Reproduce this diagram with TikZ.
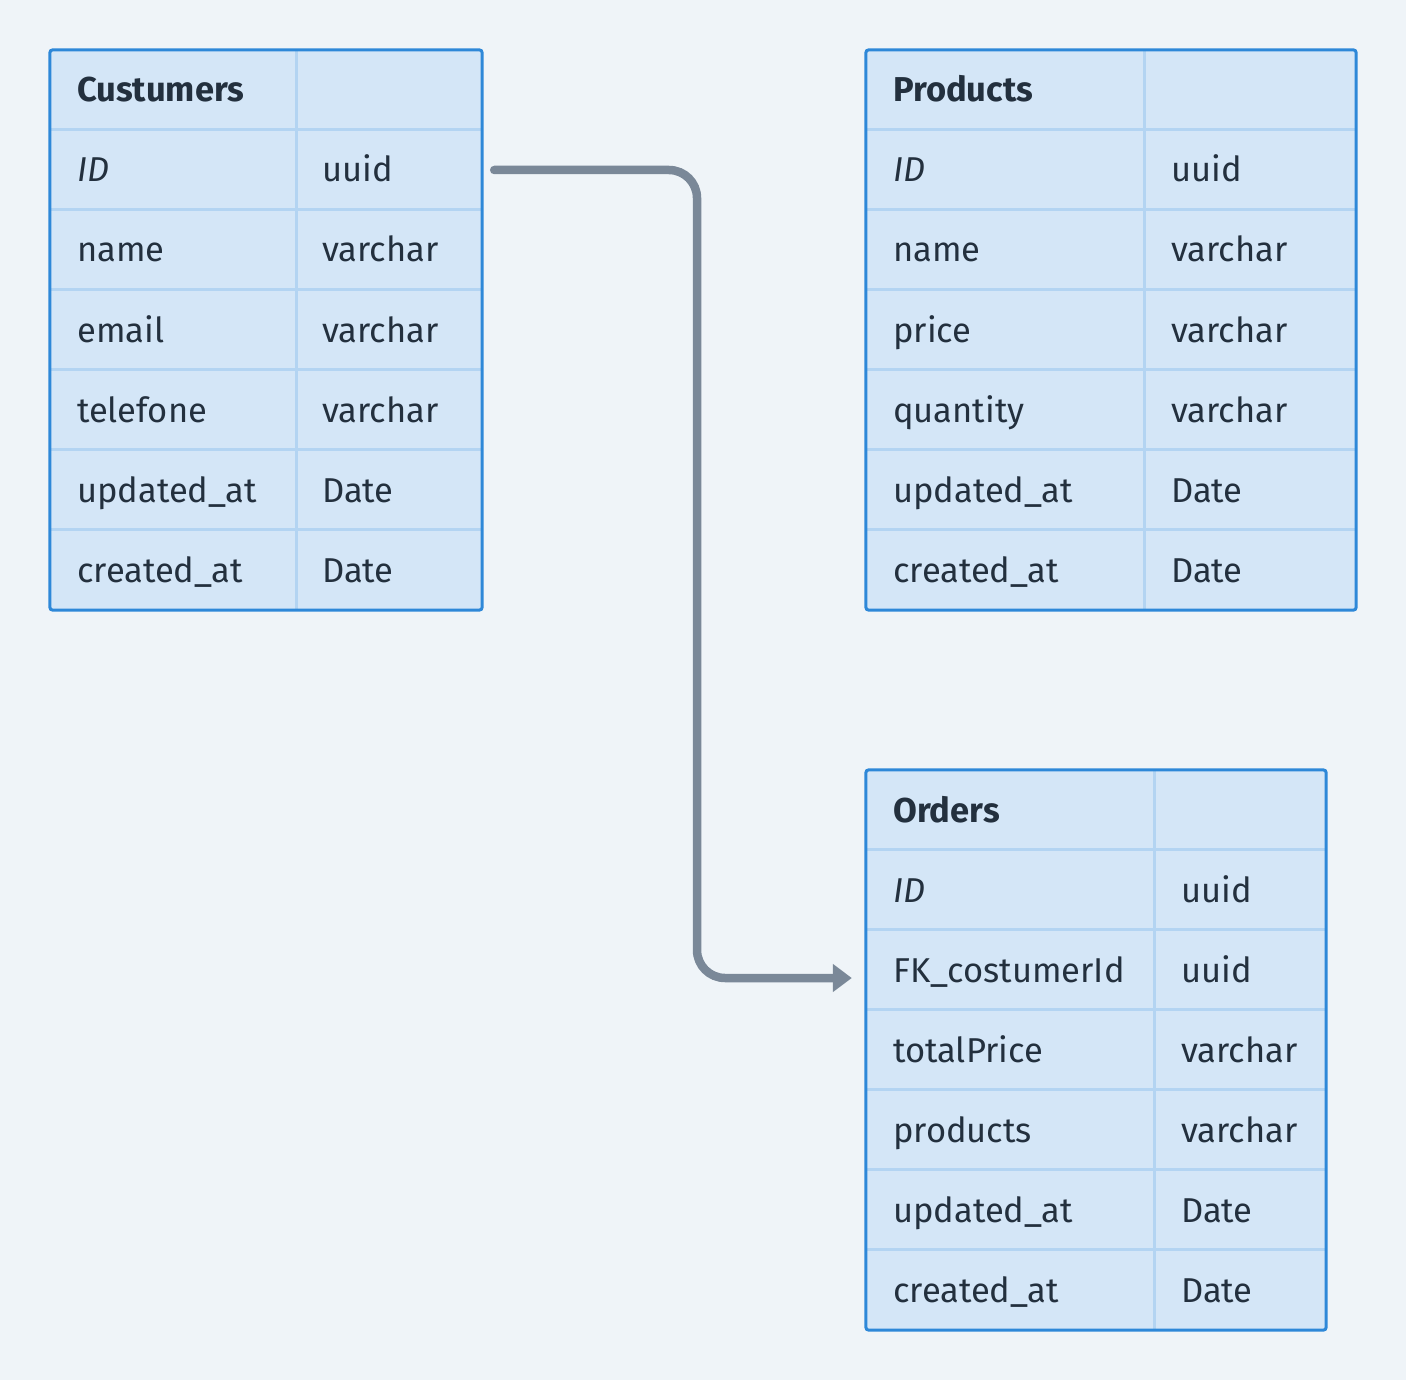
\documentclass[tikz,border=0pt]{standalone}
\usepackage{fontspec}
\setmainfont{Fira Sans}
\usetikzlibrary{arrows.meta, positioning}
\definecolor{bgpale}{RGB}{239, 244, 248}
\definecolor{tblblue}{RGB}{46, 136, 216}
\definecolor{tblfill}{RGB}{212, 230, 247}
\definecolor{tblgrid}{RGB}{179, 212, 242}
\definecolor{inkdark}{RGB}{35, 48, 62}
\definecolor{linkgray}{RGB}{122, 136, 152}
\newcommand{\cellfont}{\fontsize{34.5}{42}\selectfont}

\tikzset{
  tablebox/.style={fill=tblfill, minimum width=#1, minimum height=560pt, inner sep=0pt},
  tableedge/.style={draw=tblblue, line width=3pt, rounded corners=3pt},
  gridline/.style={draw=tblgrid, line width=3pt},
  celltxt/.style={anchor=west, inner sep=0pt, text height=24pt, text depth=0pt, text=inkdark, font=\cellfont},
  headtxt/.style={celltxt, font=\cellfont\bfseries},
  fkarrow/.style={draw=linkgray, line width=8.5pt, line cap=round, rounded corners=28pt, -{Triangle[length=19pt, width=27pt]}}
}

\begin{document}
\begin{tikzpicture}[x=1pt, y=-1pt]
  \fill[bgpale] (0,0) rectangle (1406,1380);
  \useasboundingbox (0,0) rectangle (1406,1380);

  % Custumers
  \node[tablebox=432pt] (cust) at (266, 330) {};
  \foreach \r in {1,...,6}
    \draw[gridline] ([yshift=-80*\r pt]cust.north west) -- ([yshift=-80*\r pt]cust.north east);
  \draw[gridline] (296, 50) -- (296, 610);
  \draw[tableedge] (cust.north west) rectangle (cust.south east);
  \node[headtxt] (cust-head) at (77, 90) {Custumers};
  \foreach \fname/\ftype [count=\r] in {{\itshape ID}/uuid, name/varchar, email/varchar, telefone/varchar, updated\_at/Date, created\_at/Date} {
    \node[celltxt] (cust-f\r) at (77, {90+80*\r}) {\fname};
    \node[celltxt] (cust-t\r) at (322, {90+80*\r}) {\ftype};
  }

  % Products
  \node[tablebox=490pt] (prod) at (1111, 330) {};
  \foreach \r in {1,...,6}
    \draw[gridline] ([yshift=-80*\r pt]prod.north west) -- ([yshift=-80*\r pt]prod.north east);
  \draw[gridline] (1144, 50) -- (1144, 610);
  \draw[tableedge] (prod.north west) rectangle (prod.south east);
  \node[headtxt] (prod-head) at (893, 90) {Products};
  \foreach \fname/\ftype [count=\r] in {{\itshape ID}/uuid, name/varchar, price/varchar, quantity/varchar, updated\_at/Date, created\_at/Date} {
    \node[celltxt] (prod-f\r) at (893, {90+80*\r}) {\fname};
    \node[celltxt] (prod-t\r) at (1171, {90+80*\r}) {\ftype};
  }

  % Orders
  \node[tablebox=460pt] (ord) at (1096, 1050) {};
  \foreach \r in {1,...,6}
    \draw[gridline] ([yshift=-80*\r pt]ord.north west) -- ([yshift=-80*\r pt]ord.north east);
  \draw[gridline] (1154, 770) -- (1154, 1330);
  \draw[tableedge] (ord.north west) rectangle (ord.south east);
  \node[headtxt] (ord-head) at (893, 810) {Orders};
  \foreach \fname/\ftype [count=\r] in {{\itshape ID}/uuid, FK\_costumerId/uuid, totalPrice/varchar, products/varchar, updated\_at/Date, created\_at/Date} {
    \node[celltxt] (ord-f\r) at (893, {810+80*\r}) {\fname};
    \node[celltxt] (ord-t\r) at (1181, {810+80*\r}) {\ftype};
  }

  % foreign key link
  \coordinate (fk-bend) at (697, 978);
  \draw[fkarrow, shorten <=12pt, shorten >=14pt] (cust.east |- cust-t1.west) -| (fk-bend) -- (ord.west |- fk-bend);
\end{tikzpicture}
\end{document}
